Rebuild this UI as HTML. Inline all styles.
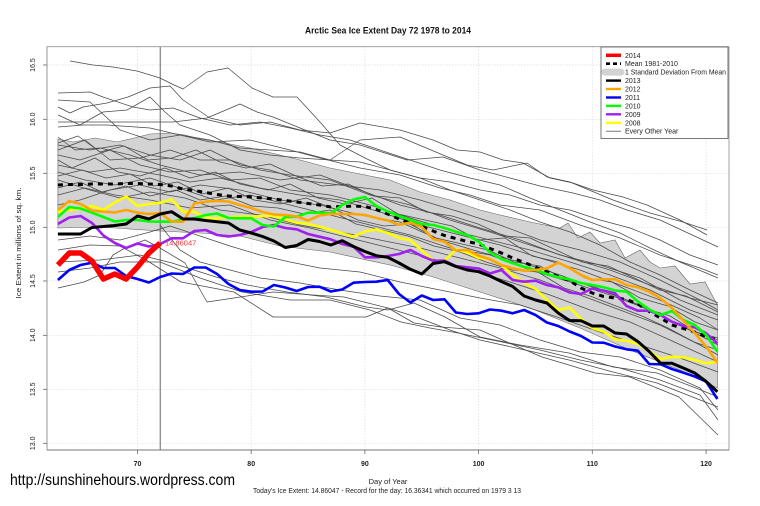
<!DOCTYPE html>
<html><head><meta charset="utf-8"><style>
html,body{margin:0;padding:0;background:#fff;}
svg{display:block;font-family:"Liberation Sans",Arial,sans-serif;}
</style></head><body>
<svg width="760" height="506" viewBox="0 0 760 506" xmlns="http://www.w3.org/2000/svg">
<rect x="0" y="0" width="760" height="506" fill="#fff"/>
<text x="388" y="33.5" text-anchor="middle" font-size="9" font-weight="bold" textLength="166" lengthAdjust="spacingAndGlyphs" fill="#111">Arctic Sea Ice Extent Day 72 1978 to 2014</text>

<!-- grid -->
<g stroke="#dcdcdc" stroke-width="0.7" stroke-dasharray="1.5 1.5" fill="none">
<line x1="47" y1="65" x2="729" y2="65"/><line x1="47" y1="119.3" x2="729" y2="119.3"/>
<line x1="47" y1="173.3" x2="729" y2="173.3"/><line x1="47" y1="227.3" x2="729" y2="227.3"/>
<line x1="47" y1="281" x2="729" y2="281"/><line x1="47" y1="335.3" x2="729" y2="335.3"/>
<line x1="47" y1="389.3" x2="729" y2="389.3"/><line x1="47" y1="443.3" x2="729" y2="443.3"/>
<line x1="137.5" y1="47" x2="137.5" y2="450"/><line x1="251.2" y1="47" x2="251.2" y2="450"/>
<line x1="364.9" y1="47" x2="364.9" y2="450"/><line x1="478.6" y1="47" x2="478.6" y2="450"/>
<line x1="592.3" y1="47" x2="592.3" y2="450"/><line x1="706.1" y1="47" x2="706.1" y2="450"/>
</g>

<!-- SD band -->
<polygon fill="#d3d3d3" stroke="#666" stroke-width="0.6" points="57.9,139 73,142 95,138 117,142 130,139 150,134 170,133 185,135 200,139 220,142 250,148 280,155 300,160 330,168 360,174 390,180 420,192 450,200 480,210 500,215 530,222 560,228 568,223 578,238 590,232 600,243 615,240 625,258 640,250 650,262 660,268 675,266 690,284 705,282 717.4,305 717.4,388 680,370 630,350 580,328 530,308 480,292 430,276 390,265 330,252 280,246 240,236 200,233 160,231 100,227 57.9,228"/>

<!-- gray lines -->
<g stroke="#4a4a4a" stroke-width="0.75" fill="none" stroke-linejoin="round">
<polyline points="70,61 93,65 113,67 137,71 160,78 172,84 183,89 207,72 228,68 252,88 273,97 297,97 320,122 340,145 365,158 390,170 420,178 450,190 480,200 510,210 540,222 570,232 600,245 630,262 660,275 690,290 718,303"/>
<polyline points="58,93 90,92 103,97 133,107 150,110 173,108 200,118 230,125 260,122 290,128 320,135 350,140 380,150 410,160 440,170 470,178 500,185 530,198 560,210 590,222 620,233 650,248 680,262 718,278"/>
<polyline points="58,107 70,113 83,107 107,103 128,97 150,88 170,86 183,100 210,118 240,125 270,122 300,130 330,133 360,123 400,130 433,140 457,150 480,152 503,160 523,163 550,178 573,183 593,190 623,197 647,205 680,220 707,235"/>
<polyline points="58,115 80,125 103,112 127,110 150,97 165,112 180,125 210,135 240,150 270,155 300,158 330,160 360,140 400,137 443,155 467,165 493,170 527,163 547,177 570,182 613,200 650,213 683,222 707,230"/>
<polyline points="58,122 80,122 150,122 173,122 207,118 240,104 257,112 273,117 300,128 330,140 360,145 407,160 443,157 480,170 510,178 540,186 573,193 600,200 627,210 660,220 718,247"/>
<polyline points="58,127 83,125 107,125 150,128 180,135 210,140 240,148 270,150 300,152 330,160 360,162 390,170 420,178 450,182 480,190 510,195 540,205 570,210 600,220 630,228 660,240 690,255 718,265"/>
<polyline points="58,100 90,102 120,130 150,140 180,135 210,142 250,140 290,150 320,158 360,168 400,175 440,188 470,195 500,205 540,210 580,225 620,238 660,255 700,268 718,275"/>
<polyline points="58,145 90,150 120,145 150,155 180,160 210,150 240,165 270,170 300,180 340,185 380,190 420,200 460,212 500,225 540,240 580,250 620,262 660,280 700,300 718,310"/>
<polyline points="58,155 80,160 110,150 140,165 170,172 200,170 230,180 260,178 290,190 330,195 370,205 410,218 450,230 490,240 530,250 570,262 610,275 650,290 690,310 718,320"/>
<polyline points="58,165 90,172 120,168 160,175 190,182 220,178 260,188 300,195 340,200 380,212 420,225 460,235 500,245 540,258 580,270 620,285 660,300 700,318 718,330"/>
<polyline points="58,172 85,180 115,185 150,178 185,190 215,200 250,195 290,205 330,215 370,225 410,235 450,248 490,255 530,270 570,282 610,295 650,310 690,330 718,340"/>
<polyline points="58,180 90,190 120,198 150,192 185,198 220,210 260,215 300,225 340,232 380,240 420,248 460,258 500,268 540,280 580,295 620,310 660,325 700,345 718,355"/>
<polyline points="58,195 85,188 115,195 150,200 190,208 230,205 270,220 310,228 350,238 390,248 430,258 470,270 510,282 550,295 590,310 630,322 670,340 718,362"/>
<polyline points="58,137 75,150 100,148 130,155 160,165 200,175 240,172 280,180 320,175 360,190 400,205 440,215 480,228 520,240 560,255 600,265 640,278 680,300 718,315"/>
<polyline points="58,150 85,140 110,160 140,158 170,150 200,160 230,160 260,170 290,175 330,180 370,195 410,205 450,220 490,232 530,245 570,258 610,270 650,285 690,298 718,305"/>
<polyline points="58,205 80,200 110,190 140,185 170,192 200,185 240,190 280,200 320,205 360,215 400,222 440,240 480,252 520,262 560,275 600,290 640,305 680,325 718,345"/>
<polyline points="58,160 72,168 95,158 118,172 140,176 165,168 190,178 215,172 240,184 268,190 290,184 318,198 345,204 372,198 398,214 425,220 452,226 478,240 505,238 532,256 558,262 585,278 612,282 640,298 668,306 695,322 718,330"/>
<polyline points="58,188 80,182 102,192 126,186 150,196 176,190 200,200 226,196 252,206 278,208 304,214 330,210 356,224 382,230 408,236 434,246 460,252 486,262 512,270 538,272 564,288 590,296 616,306 642,316 668,328 694,342 718,350"/>
<polyline points="58,143 78,136 100,152 124,146 148,160 172,158 196,150 220,162 246,168 270,164 296,176 322,186 348,184 374,196 400,198 426,212 452,216 478,224 504,236 530,238 556,250 582,262 608,266 634,278 660,290 686,296 718,312"/>
<polyline points="58,176 82,170 106,178 130,174 154,186 178,182 202,194 228,188 254,200 280,204 306,198 332,208 358,220 384,226 410,224 436,238 462,244 488,250 514,262 540,266 566,280 592,286 618,296 644,308 670,316 696,332 718,338"/>
<polyline points="58,288 84,282 100,275 113,255 125,248 145,240 160,248 185,263 207,302 234,298 273,292 313,295 344,297 388,308 414,323 441,327 480,330 507,342 542,357 569,365 595,373 630,377 657,388 679,397 718,435"/>
<polyline points="58,250 90,245 120,246 146,260 181,282 234,292 273,317 300,317 366,317 388,308 419,318 450,330 480,340 525,350 569,360 613,372 657,383 718,407"/>
<polyline points="58,262 100,260 140,255 172,263 216,277 247,285 287,292 326,297 366,307 388,310 414,303 445,317 480,337 520,345 569,353 613,367 657,373 701,390 718,397"/>
<polyline points="58,272 90,268 120,262 160,262 200,278 242,292 290,300 330,300 370,310 401,322 430,328 458,333 502,342 540,350 580,360 620,368 660,380 700,395 718,420"/>
<polyline points="58,240 90,236 120,240 150,232 170,226 200,236 230,246 260,255 290,262 320,268 360,272 400,282 440,290 480,298 520,305 560,318 600,332 640,345 680,358 718,372"/>
<polyline points="160,225 180,250 200,262 230,270 260,278 300,283 340,290 380,296 420,300 460,318 500,325 540,340 580,352 620,357 660,370 700,388 718,410"/>
</g>

<!-- vertical day line -->
<line x1="160.2" y1="47" x2="160.2" y2="450" stroke="#555" stroke-width="0.9"/>

<!-- mean -->
<polyline fill="none" stroke="#000" stroke-width="3" stroke-dasharray="5 5" points="57.9,185 69.3,184.5 80.6,184.5 92,184 103.4,184 114.8,184 126.1,183.5 137.5,183.5 148.9,184 160.2,184.5 171.6,186 183,189 194.3,190.5 205.7,192.5 217.1,194.5 228.5,196 239.8,196.5 251.2,197 262.6,198 273.9,199 285.3,200.5 296.7,202 308.1,203.5 319.4,205 330.8,207 342.2,206.5 353.5,206 364.9,206.5 376.3,209.5 387.7,214 399,219 410.4,223 421.8,226.5 433.1,231 444.5,235.5 455.9,238.5 467.3,241.5 478.6,244 490,248.5 501.4,253 512.7,258 524.1,262.5 535.5,267 546.9,272 558.2,276.5 569.6,280.5 581,288 592.3,293 603.7,296.5 615.1,298 626.5,299.5 637.8,304 649.2,311.5 660.6,318 671.9,325 683.3,328.5 694.7,332 706.1,336.5 717.4,340"/>

<g fill="none" stroke-width="2.6" stroke-linejoin="round">
<polyline stroke="#ffff00" points="57.9,211.7 69.3,210 80.6,208.5 92,206 103.4,210 114.8,202.5 126.1,196.5 137.5,206 148.9,204 160.2,202.7 171.6,199.5 183,211.7 194.3,211.7 205.7,218 217.1,218.3 228.5,217.3 239.8,216.7 251.2,216.7 262.6,216 273.9,216 285.3,219.5 296.7,222.7 308.1,224 319.4,226.7 330.8,230 342.2,233.3 353.5,236.7 364.9,231.5 376.3,229.5 387.7,233 399,238 410.4,240 421.8,250.5 433.1,260.5 444.5,260.7 455.9,249.5 467.3,252.5 478.6,258 490,259 501.4,265 512.7,275 524.1,283 535.5,289 546.9,300 558.2,310 569.6,307.5 581,319 592.3,328 603.7,331.7 615.1,339.5 626.5,340.7 637.8,344 649.2,351.5 660.6,359 671.9,356.7 683.3,357.3 694.7,360 706.1,363.3 717.4,361.7"/>
<polyline stroke="#a020f0" points="57.9,224 69.3,217.5 80.6,216 92,223 103.4,235.5 114.8,243 126.1,248 137.5,243.5 148.9,246.5 160.2,244 171.6,238.3 183,238.3 194.3,231 205.7,230 217.1,235 228.5,236.5 239.8,235 251.2,232 262.6,227 273.9,225 285.3,228 296.7,229.3 308.1,234 319.4,236.7 330.8,239.3 342.2,244 353.5,246.7 364.9,257.3 376.3,257.3 387.7,256 399,254 410.4,250 421.8,256 433.1,260.7 444.5,260.7 455.9,266 467.3,267.3 478.6,268.5 490,273.5 501.4,270 512.7,280 524.1,281.7 535.5,280.7 546.9,285 558.2,287.3 569.6,292.5 581,294 592.3,288.5 603.7,290.7 615.1,293.3 626.5,306 637.8,310.7 649.2,310.7 660.6,315 671.9,321.7 683.3,326 694.7,327.3 706.1,333.3 717.4,343.3"/>
<polyline stroke="#00ff00" points="57.9,217 69.3,207 80.6,208.5 92,212.7 103.4,217 114.8,221.5 126.1,220 137.5,220 148.9,221.5 160.2,221.7 171.6,221.7 183,219.5 194.3,218.3 205.7,215 217.1,213.5 228.5,218 239.8,218.3 251.2,218.3 262.6,225 273.9,226.5 285.3,217 296.7,216.7 308.1,212.7 319.4,212.7 330.8,213.3 342.2,205 353.5,199.5 364.9,197 376.3,206 387.7,211.5 399,216 410.4,220 421.8,224 433.1,225 444.5,228 455.9,231.7 467.3,235 478.6,241.5 490,252.5 501.4,259 512.7,263.3 524.1,266.7 535.5,270 546.9,274 558.2,277.3 569.6,279.3 581,283 592.3,285 603.7,287.3 615.1,290.5 626.5,291.7 637.8,301.5 649.2,309.5 660.6,315 671.9,311 683.3,320 694.7,325 706.1,335 717.4,351.7"/>
<polyline stroke="#0000ff" points="57.9,280 69.3,270 80.6,265 92,262.7 103.4,268 114.8,268 126.1,276 137.5,279 148.9,282.5 160.2,277 171.6,273.5 183,274 194.3,267.5 205.7,267.5 217.1,274 228.5,284 239.8,290 251.2,291.7 262.6,291.5 273.9,285 285.3,287.5 296.7,291 308.1,287 319.4,286.7 330.8,291.5 342.2,289.5 353.5,282.7 364.9,282 376.3,281.7 387.7,280 399,294 410.4,302.5 421.8,295.5 433.1,300 444.5,299.3 455.9,312.5 467.3,314 478.6,313.3 490,309.5 501.4,310.7 512.7,313.3 524.1,310 535.5,315 546.9,322.5 558.2,326 569.6,331.5 581,336 592.3,342.5 603.7,342.7 615.1,346.5 626.5,349.3 637.8,350.7 649.2,364 660.6,364.3 671.9,369 683.3,372.7 694.7,376.5 706.1,381.5 717.4,399"/>
<polyline stroke="#ffa500" points="57.9,210 69.3,201 80.6,204 92,210.5 103.4,211.7 114.8,212.5 126.1,210 137.5,212.7 148.9,214 160.2,213 171.6,221.5 183,221.7 194.3,203.5 205.7,201.7 217.1,200.8 228.5,201.5 239.8,205 251.2,208 262.6,212 273.9,214.5 285.3,215 296.7,216.5 308.1,220.5 319.4,215.5 330.8,214 342.2,214 353.5,214 364.9,215 376.3,218 387.7,220.5 399,224.7 410.4,222.7 421.8,227 433.1,239 444.5,241.7 455.9,250.5 467.3,250 478.6,255.7 490,259.3 501.4,265 512.7,268.3 524.1,270.7 535.5,270 546.9,268.3 558.2,262.7 569.6,268 581,275 592.3,280 603.7,279.3 615.1,279.3 626.5,285 637.8,287.3 649.2,291.7 660.6,298.3 671.9,308 683.3,320.5 694.7,333 706.1,346.5 717.4,362.7"/>
<polyline stroke="#000" stroke-width="3" points="57.9,234 69.3,234 80.6,234 92,227.5 103.4,226.5 114.8,225.5 126.1,224 137.5,216 148.9,219 160.2,214 171.6,211.7 183,219 194.3,219 205.7,220.5 217.1,221.7 228.5,223 239.8,230 251.2,233 262.6,236.5 273.9,241 285.3,247.5 296.7,245.5 308.1,239.5 319.4,241.5 330.8,245 342.2,240.7 353.5,246.5 364.9,251.5 376.3,255.7 387.7,257.3 399,263 410.4,269.3 421.8,274 433.1,263.5 444.5,261.7 455.9,266.5 467.3,270 478.6,271.7 490,276 501.4,281.5 512.7,286.5 524.1,296 535.5,300 546.9,303 558.2,313 569.6,320.5 581,320.7 592.3,326 603.7,326 615.1,333 626.5,334 637.8,341.5 649.2,351.5 660.6,363.3 671.9,363.3 683.3,368 694.7,373 706.1,381.5 717.4,391.7"/>
<polyline stroke="#ff0000" stroke-width="5.5" points="57.9,265 69.3,253 80.6,253 92,261 103.4,279 114.8,274 126.1,279 137.5,267 148.9,253 160.2,243"/>
</g>
<text x="165" y="245.5" font-size="7.5" fill="#ff3333">14.86047</text>

<!-- box / axes -->
<rect x="47" y="46.7" width="682" height="403.3" fill="none" stroke="#999" stroke-width="0.9"/>
<line x1="47" y1="450" x2="729" y2="450" stroke="#777" stroke-width="1"/>
<line x1="47" y1="46.7" x2="47" y2="450" stroke="#999" stroke-width="1"/>
<g stroke="#666" stroke-width="0.8">
<line x1="43" y1="65" x2="47" y2="65"/><line x1="43" y1="119.3" x2="47" y2="119.3"/>
<line x1="43" y1="173.3" x2="47" y2="173.3"/><line x1="43" y1="227.3" x2="47" y2="227.3"/>
<line x1="43" y1="281" x2="47" y2="281"/><line x1="43" y1="335.3" x2="47" y2="335.3"/>
<line x1="43" y1="389.3" x2="47" y2="389.3"/><line x1="43" y1="443.3" x2="47" y2="443.3"/>
<line x1="137.5" y1="450" x2="137.5" y2="454"/><line x1="251.2" y1="450" x2="251.2" y2="454"/>
<line x1="364.9" y1="450" x2="364.9" y2="454"/><line x1="478.6" y1="450" x2="478.6" y2="454"/>
<line x1="592.3" y1="450" x2="592.3" y2="454"/><line x1="706.1" y1="450" x2="706.1" y2="454"/>
</g>
<g font-size="7" fill="#222" text-anchor="middle">
<text transform="translate(35,65) rotate(-90)">16.5</text>
<text transform="translate(35,119.3) rotate(-90)">16.0</text>
<text transform="translate(35,173.3) rotate(-90)">15.5</text>
<text transform="translate(35,227.3) rotate(-90)">15.0</text>
<text transform="translate(35,281) rotate(-90)">14.5</text>
<text transform="translate(35,335.3) rotate(-90)">14.0</text>
<text transform="translate(35,389.3) rotate(-90)">13.5</text>
<text transform="translate(35,443.3) rotate(-90)">13.0</text>
<text x="137.5" y="466" font-weight="bold">70</text>
<text x="251.2" y="466" font-weight="bold">80</text>
<text x="364.9" y="466" font-weight="bold">90</text>
<text x="478.6" y="466" font-weight="bold">100</text>
<text x="592.3" y="466" font-weight="bold">110</text>
<text x="706.1" y="466" font-weight="bold">120</text>
<text transform="translate(21,243) rotate(-90)" font-size="7.5" textLength="111" lengthAdjust="spacingAndGlyphs">Ice Extent in millions of sq. km.</text>
<text x="388" y="484" font-size="7.5">Day of Year</text>
<text x="387" y="493" font-size="7" textLength="268" lengthAdjust="spacingAndGlyphs">Today's Ice Extent: 14.86047  - Record for the day: 16.36341 which occurred on 1979 3 13</text>
</g>
<text x="10" y="485" font-size="15.5" fill="#000" textLength="225" lengthAdjust="spacingAndGlyphs">http://sunshinehours.wordpress.com</text>

<!-- legend -->
<rect x="601" y="47" width="127" height="91.5" fill="#fff" stroke="#555" stroke-width="0.8"/>
<g fill="none" stroke-linecap="butt">
<line x1="606" y1="55.3" x2="621" y2="55.3" stroke="#ff0000" stroke-width="3.5"/>
<line x1="606" y1="63.7" x2="621" y2="63.7" stroke="#000" stroke-width="2.6" stroke-dasharray="4 3"/>
<line x1="605" y1="72.1" x2="621" y2="72.1" stroke="#d3d3d3" stroke-width="7" stroke-linecap="round"/>
<line x1="606" y1="80.6" x2="621" y2="80.6" stroke="#000" stroke-width="2.4"/>
<line x1="606" y1="89" x2="621" y2="89" stroke="#ffa500" stroke-width="2.4"/>
<line x1="606" y1="97.5" x2="621" y2="97.5" stroke="#0000ff" stroke-width="2.4"/>
<line x1="606" y1="105.9" x2="621" y2="105.9" stroke="#00ff00" stroke-width="2.4"/>
<line x1="606" y1="114.3" x2="621" y2="114.3" stroke="#a020f0" stroke-width="2.4"/>
<line x1="606" y1="122.8" x2="621" y2="122.8" stroke="#ffff00" stroke-width="2.4"/>
<line x1="606" y1="131.2" x2="621" y2="131.2" stroke="#555" stroke-width="0.8"/>
</g>
<g font-size="7" fill="#222">
<text x="625" y="57.8">2014</text>
<text x="625" y="66.2">Mean 1981-2010</text>
<text x="625" y="74.6" textLength="101" lengthAdjust="spacingAndGlyphs">1 Standard Deviation From Mean</text>
<text x="625" y="83.1">2013</text>
<text x="625" y="91.5">2012</text>
<text x="625" y="100">2011</text>
<text x="625" y="108.4">2010</text>
<text x="625" y="116.8">2009</text>
<text x="625" y="125.3">2008</text>
<text x="625" y="133.7">Every Other Year</text>
</g>
</svg>
</body></html>
